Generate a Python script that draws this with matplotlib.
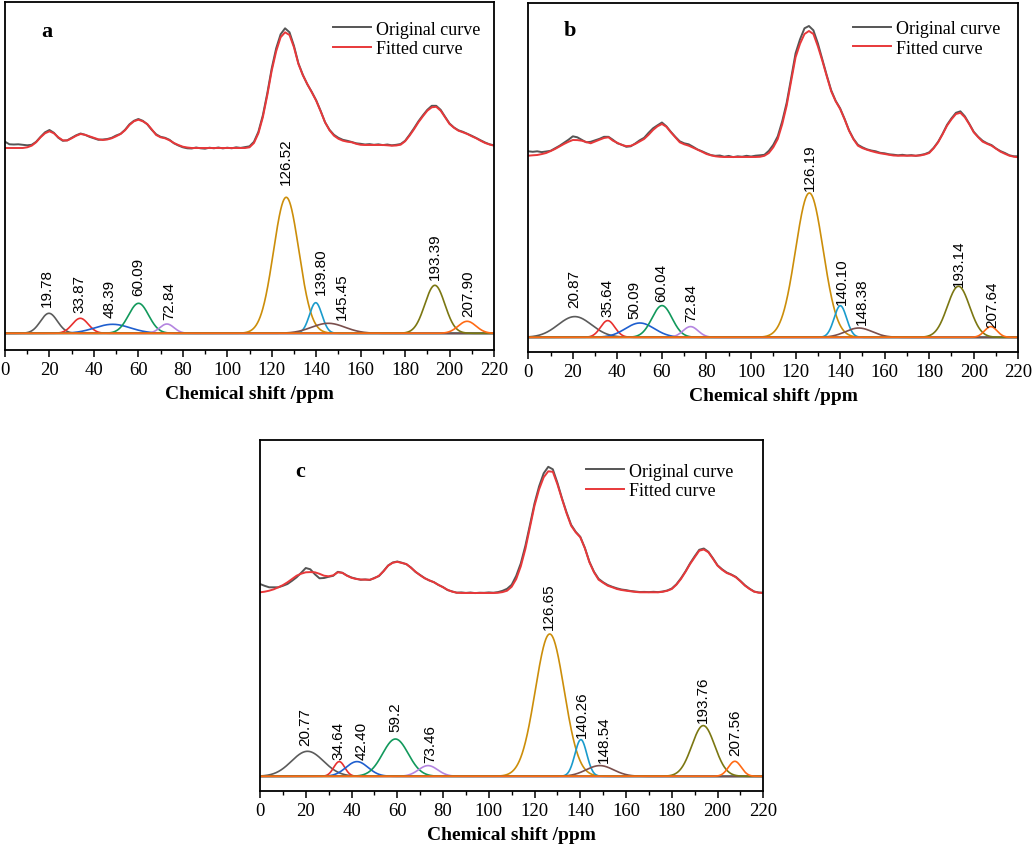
import numpy as np
import matplotlib
matplotlib.use("Agg")
import matplotlib.pyplot as plt
from matplotlib.ticker import MultipleLocator

# ---------------- data ----------------
comp_colors = ["#5b5b5b", "#e8302e", "#1f5fcf", "#12995c", "#b485e0",
               "#cc8e0a", "#1a9bcc", "#7a4f4c", "#7b7712", "#ff6a14"]

# chemical-shift grid of the measured / fitted spectra (every 2 ppm)
spec_ppm = list(range(0, 221, 2))

# ----- panel a -----
a_labels = ["19.78", "33.87", "48.39", "60.09", "72.84", "126.52", "139.80", "145.45", "193.39", "207.90"]
a_centers = [19.78, 33.87, 48.39, 60.09, 72.84, 126.52, 139.80, 145.45, 193.39, 207.90]
a_heights = [20, 15, 9, 30, 9.3, 136, 30.6, 10, 48, 12]
a_sigmas = [3.8, 3.6, 8.0, 4.5, 3.2, 5.7, 2.8, 7.5, 4.5, 4.0]
a_label_x = [18.7, 33.7, 47.2, 60.0, 73.8, 126.4, 142.2, 151.5, 193.5, 208.4]
a_label_y = [27.6, 21, 16, 38.3, 14.3, 149.3, 39.3, 14.3, 54.3, 17.6]
a_fitted = [185.3, 185.3, 185.3, 185.3, 185.3, 186, 187.6, 191, 196, 200,
            202, 200, 196, 193, 192.8, 195, 197.5, 199.3, 198.5, 197,
            195.5, 194, 193.3, 193.8, 195, 197, 199.3, 203, 208.3, 212,
            213.6, 212, 209.3, 204, 198.3, 196, 195, 193, 190.3, 188.3,
            186.6, 185.8, 185.3, 185.3, 185.3, 185.3, 185.3, 185.3, 185.3, 185.3,
            185.3, 185.3, 185.3, 185.3, 185.3, 186, 190.3, 200, 216, 238,
            262.6, 282, 296, 301, 298.3, 286, 269.3, 258, 249.3, 241,
            232.6, 222, 211, 203, 197.6, 194.5, 192.6, 191.6, 191, 189.5,
            188.5, 188.3, 188.3, 188.3, 188.3, 188.3, 188, 187.6, 187.8, 188.6,
            192, 197.6, 204, 211, 217, 222.6, 226, 226.5, 222.6, 216,
            209.3, 205.5, 202.6, 201, 199.3, 197, 195, 192.5, 190.3, 188.8,
            187.6]
a_original = [191.6, 189, 188.8, 189, 188.5, 188, 188.5, 191.5, 196.5, 201,
              203.3, 200.5, 195.5, 192.5, 193, 195.5, 198, 199.8, 198.5, 196.5,
              195, 193.5, 193.8, 194.3, 195.5, 197.8, 199.5, 203.5, 209, 212.5,
              214.3, 212.5, 209, 203.5, 199, 196.5, 195.5, 193.5, 190, 187.8,
              186, 185, 184.8, 185.8, 185, 184.6, 185.6, 185, 185.8, 184.9,
              185.6, 185, 186, 185.4, 186.2, 187, 191.5, 201.5, 218, 240,
              265, 285, 299, 305, 301, 287.5, 270, 258.5, 249, 241.5,
              233, 222.5, 211, 203.5, 198.5, 195.5, 193.5, 192.5, 191.3, 190,
              189.5, 188.8, 189.2, 188.5, 189, 188.2, 188.8, 188, 188.5, 189.3,
              192.5, 198.5, 205, 212, 218, 223.5, 227.5, 227.5, 223.5, 216.5,
              209.8, 205.8, 203, 201.5, 199.5, 197.5, 195.3, 193, 190.8, 189,
              188]

# ----- panel b -----
b_labels = ["20.87", "35.64", "50.09", "60.04", "72.84", "126.19", "140.10", "148.38", "193.14", "207.64"]
b_centers = [20.87, 35.64, 50.09, 60.04, 72.84, 126.19, 140.10, 148.38, 193.14, 207.64]
b_heights = [20.7, 16.7, 14.3, 31.7, 10.7, 144.3, 31.6, 9.3, 51, 10.7]
b_sigmas = [7.5, 3.2, 6.5, 4.5, 3.4, 6.2, 2.8, 6.0, 5.0, 2.8]
b_label_x = [20.7, 35.6, 47.6, 59.9, 73.1, 126.5, 140.7, 149.7, 193.5, 208.1]
b_label_y = [30, 21.6, 19, 36.6, 16.6, 147.6, 33.3, 13.3, 51.6, 10]
b_fitted = [181.6, 182, 182.3, 183.2, 184.3, 186.2, 188.3, 190.8, 193.3, 195.5,
            197.3, 197.2, 196.6, 195.3, 194, 195.8, 197.6, 199.3, 200, 196.6,
            194.5, 192.3, 191.2, 191.5, 193.3, 195.8, 198.3, 202.5, 207.3, 211,
            213.3, 210.5, 205, 200, 195, 193, 191.6, 189.6, 187.6, 185.5,
            183.3, 182, 181, 180.5, 180.3, 180.3, 180.3, 180.3, 180.3, 180.3,
            180.3, 180.3, 180.5, 181.5, 184.3, 190, 198.3, 213, 231.6, 256,
            280, 293.5, 303.3, 306.3, 303.3, 291, 276.6, 261, 246, 236,
            228.3, 218, 206.6, 198, 191.6, 189.2, 187.6, 186.2, 185, 184,
            183.3, 182.5, 181.8, 181.6, 181.6, 181.6, 181.6, 181.6, 181.8, 182.8,
            184.3, 189, 195, 203, 211.6, 218, 223.3, 224.5, 220, 213,
            205, 200, 195.6, 193.5, 191.6, 188.6, 185.6, 183.5, 181.6, 180.6,
            180]
b_original = [186, 185.5, 186, 185.2, 185.8, 186.5, 189, 191.5, 194.5, 197.5,
              201, 200, 197.5, 195, 195.5, 197, 198.5, 200.5, 200.5, 197.5,
              194, 192.6, 190.5, 191, 193.8, 197, 199.5, 204.5, 209, 212,
              214.8, 211, 205.5, 200.5, 196, 194, 193, 190.5, 187.8, 186,
              184, 182.2, 181.5, 181.8, 180.6, 181.4, 180.2, 181, 180.6, 181.5,
              180.8, 181.6, 182, 182.5, 186.5, 192.5, 201, 216, 234.5, 259,
              284, 298, 309, 311.3, 307, 294, 278, 262, 247, 236.5,
              229, 218.5, 207, 198.5, 192.5, 190, 188, 186.8, 186, 184.5,
              184, 183, 182.6, 182, 182.5, 181.8, 182.2, 181.5, 182.3, 183.2,
              185, 189.5, 195.5, 203.5, 212.5, 219, 224.5, 226, 221, 213.5,
              205.5, 200.5, 196.5, 194, 192.2, 188.8, 186.2, 184.3, 182, 181,
              181]

# ----- panel c -----
c_labels = ["20.77", "34.64", "42.40", "59.2", "73.46", "126.65", "140.26", "148.54", "193.76", "207.56"]
c_centers = [20.77, 34.64, 42.40, 59.2, 73.46, 126.65, 140.26, 148.54, 193.76, 207.56]
c_heights = [25, 14.7, 14.7, 37.3, 10.7, 142.3, 36.7, 10.7, 50.7, 15]
c_sigmas = [7.0, 2.4, 4.8, 5.6, 4.2, 6.3, 2.6, 6.0, 5.0, 2.8]
c_label_x = [19.7, 34.2, 44.4, 59.3, 74.3, 126.3, 140.6, 150.1, 193.5, 207.6]
c_label_y = [31.3, 17.3, 17.3, 45.6, 14, 147.3, 39, 14, 54.6, 21.6]
c_fitted = [184, 184.6, 185.6, 187, 189, 191.2, 194, 197.3, 200.6, 202.6,
            204, 204.2, 204, 202.5, 200.6, 200, 201, 204, 203.5, 200.6,
            198.5, 197.3, 196.8, 196.6, 196.6, 198, 200.6, 205, 210.6, 213.5,
            214.5, 213.3, 212.3, 208.5, 204.6, 201, 198, 196, 194, 191.5,
            189, 186.5, 184.6, 183.6, 183.3, 183.3, 183.3, 183.3, 183.3, 183.3,
            183.3, 183.3, 183.5, 184.2, 185.6, 189.5, 197.3, 210, 227.3, 249,
            270.6, 287, 299, 305, 304.5, 292, 277.3, 263, 250.6, 244,
            239, 228, 214, 204, 196.6, 193.5, 190.6, 189, 187.3, 186.3,
            185.6, 185, 184.4, 184, 184, 184, 184, 184, 184.5, 185.5,
            187.3, 191.5, 197.3, 204.5, 212.3, 219, 225.6, 226.8, 224, 217.5,
            210.6, 206.5, 203.3, 201.5, 199, 195, 190.6, 187.3, 184.6, 183.6,
            183.3]
c_original = [192.3, 190.5, 189, 189, 189, 190.5, 192.3, 195.5, 199, 203.5,
              208.3, 207, 202, 198, 198.3, 199.5, 200.5, 204.5, 203.5, 200.8,
              198.8, 197.6, 196.5, 196.9, 196.3, 198.4, 200.2, 205.3, 210.8, 213.8,
              214.8, 213.6, 212, 208.8, 204.3, 201.3, 198.2, 195.8, 194.2, 191.3,
              189.2, 186.2, 184.9, 183.6, 183.9, 183.4, 183.8, 183.2, 183.6, 183.5,
              183.9, 183.6, 184.2, 185.5, 187.5, 191.5, 200.5, 213, 230.5, 251.5,
              273, 290, 303, 309.5, 307, 293.5, 278, 264, 251.5, 244.5,
              239.5, 228.5, 214.5, 204.5, 197.5, 194, 191.3, 189.5, 188, 186.8,
              186.2, 185.3, 184.8, 184.3, 184.4, 184.2, 184.5, 184.2, 184.8, 185.8,
              187.8, 192, 198, 205, 213, 220, 226.5, 227.8, 224.5, 218,
              211, 207, 203.8, 201.8, 199.4, 195.4, 191, 187.6, 184.8, 183.8,
              183.6]

xticks = [0, 20, 40, 60, 80, 100, 120, 140, 160, 180, 200, 220]

# ---------------- style ----------------
SERIF = ["Liberation Serif", "DejaVu Serif"]
SANS = ["Liberation Sans", "DejaVu Sans"]
plt.rcParams["font.family"] = SERIF

W, H = 1034, 845
fig = plt.figure(figsize=(W / 100, H / 100), dpi=100)


def ax_rect(l, t, r, b):
    return [l / W, 1 - b / H, (r - l) / W, (b - t) / H]


x = np.linspace(0, 220, 2201)


def gauss(xx, c, h, s):
    return h * np.exp(-0.5 * ((xx - c) / s) ** 2)


def draw_panel(rect, letter, labels, centers, heights, sigmas, lx, ly,
               original, fitted, ylim, leg_anchor):
    ax = fig.add_axes(rect)
    for i, (c, h, s) in enumerate(zip(centers, heights, sigmas)):
        ax.plot(x, gauss(x, c, h, s), color=comp_colors[i], lw=1.2)
        ax.text(lx[i], ly[i], labels[i], rotation=90, ha="center", va="bottom",
                fontsize=11, family=SANS)
    l1, = ax.plot(spec_ppm, original, color="#555555", lw=1.4)
    l2, = ax.plot(spec_ppm, fitted, color="#e8383a", lw=1.4)
    ax.legend([l1, l2], ["Original curve", "Fitted curve"], loc="upper right",
              bbox_to_anchor=leg_anchor, frameon=False, fontsize=13,
              handlelength=2.1, handletextpad=0.25, labelspacing=0.15,
              borderpad=0, borderaxespad=0)
    ax.text(*letter[1:], letter[0], transform=ax.transAxes, fontsize=16,
            fontweight="bold", ha="center", va="center")
    ax.set_xlim(0, 220)
    ax.set_ylim(*ylim)
    ax.set_xticks(xticks)
    ax.xaxis.set_minor_locator(MultipleLocator(10))
    ax.set_yticks([])
    ax.tick_params(axis="x", which="major", direction="out", length=5, width=1.1,
                   labelsize=13.5, pad=3)
    ax.tick_params(axis="x", which="minor", direction="out", length=3, width=1.0)
    for sp in ax.spines.values():
        sp.set_linewidth(1.3)
    ax.set_xlabel("Chemical shift /ppm", fontsize=14, fontweight="bold", labelpad=5)
    return ax


draw_panel(ax_rect(5, 2.7, 494, 351), ("a", 0.086, 0.917), a_labels, a_centers,
           a_heights, a_sigmas, a_label_x, a_label_y, a_original, a_fitted,
           (-16.7, 331.6), (1 - 14 / 489, 1 - 19 / 348))
draw_panel(ax_rect(528.3, 4, 1018.3, 352.7), ("b", 0.085, 0.923), b_labels, b_centers,
           b_heights, b_sigmas, b_label_x, b_label_y, b_original, b_fitted,
           (-14.4, 334.3), (1 - 18 / 490, 1 - 17 / 349))
draw_panel(ax_rect(260, 440.7, 763.3, 791.7), ("c", 0.0795, 0.912), c_labels, c_centers,
           c_heights, c_sigmas, c_label_x, c_label_y, c_original, c_fitted,
           (-14.4, 336.6), (1 - 30 / 503, 1 - 23 / 351))

fig.savefig("out.png", dpi=100)
